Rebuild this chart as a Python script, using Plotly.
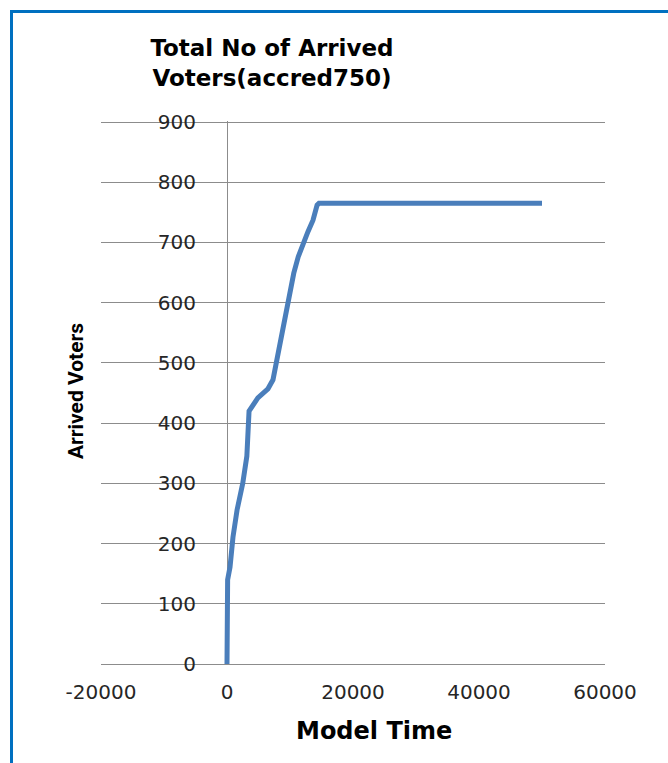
import plotly.graph_objects as go

# Data
model_time = [0, 50, 100, 480, 950, 1600, 2500, 3150, 3400, 3500, 4900, 6500, 7300, 7900,
              8700, 9500, 10150, 10600, 11300, 12050, 12850, 13650, 14300, 14600, 50000]
arrived_voters = [0, 80, 140, 161, 211, 256, 300, 345, 405, 420, 442, 457, 472, 505,
                  543, 593, 626, 649, 676, 699, 718, 737, 762, 765, 765]

x_tick_vals = [-20000, 0, 20000, 40000, 60000]
x_tick_labels = ["-20000", "0", "20000", "40000", "60000"]
y_tick_vals = [0, 100, 200, 300, 400, 500, 600, 700, 800, 900]
y_tick_labels = [str(v) for v in y_tick_vals]

title_text = "Total No of Arrived<br>Voters(accred750)"
x_title = "Model Time"
y_title = "Arrived Voters"
top_fragment = "750"

W, H = 668, 763
L, R, T, B = 101, 63, 121, 99
pw, ph = W - L - R, H - T - B


def px_x(p):
    return (p - L) / pw


def px_y(p):
    return (H - B - p) / ph


fig = go.Figure()
fig.add_trace(go.Scatter(
    x=model_time, y=arrived_voters, mode="lines",
    line=dict(color="#4A7EBB", width=5), showlegend=False,
))

grid_col = "#8C8C8C"
tick_font = dict(family="DejaVu Sans", size=20, color="#262626")

fig.update_layout(
    width=W, height=H,
    margin=dict(l=L, r=R, t=T, b=B),
    paper_bgcolor="white", plot_bgcolor="white",
    title=dict(text=title_text, x=272 / W, xanchor="center", xref="container",
               y=1 - 56 / H, yanchor="middle", yref="container",
               font=dict(family="DejaVu Sans", size=23, color="#000000", weight="bold")),
    xaxis=dict(range=[-20000, 60000], tickvals=x_tick_vals, ticktext=x_tick_labels,
               showgrid=False, zeroline=True, zerolinecolor=grid_col, zerolinewidth=1,
               showline=False, ticks="", tickfont=tick_font, ticklabelstandoff=14),
    yaxis=dict(range=[0, 901.7], tickvals=y_tick_vals, ticktext=y_tick_labels,
               showgrid=True, gridcolor=grid_col, gridwidth=1,
               zeroline=True, zerolinecolor=grid_col, zerolinewidth=1,
               anchor="free", position=0.25, showline=False, ticks="",
               tickfont=tick_font, ticklabelstandoff=31),
)

fig.add_annotation(text=y_title, textangle=-90, xref="paper", yref="paper",
                   x=px_x(76), y=px_y(391), showarrow=False, xanchor="center", yanchor="middle",
                   font=dict(family="Liberation Sans Narrow, Roboto", size=21, color="#000000",
                             weight="bold"))
fig.add_annotation(text=x_title, xref="paper", yref="paper",
                   x=px_x(374), y=px_y(731), showarrow=False, xanchor="center", yanchor="middle",
                   font=dict(family="DejaVu Sans", size=24, color="#000000", weight="bold"))
fig.add_annotation(text=top_fragment, xref="paper", yref="paper",
                   x=px_x(273), y=px_y(-6), showarrow=False, xanchor="center", yanchor="middle",
                   font=dict(family="Liberation Serif", size=18, color="#000000", style="italic"))

# blue frame (left and top edges visible, others run off the page)
fig.add_shape(type="rect", xref="paper", yref="paper",
              x0=px_x(11.5), x1=px_x(700), y0=px_y(800), y1=px_y(11.5),
              line=dict(color="#0070C0", width=3), fillcolor="rgba(0,0,0,0)", layer="above")

fig.write_html("out.html")
